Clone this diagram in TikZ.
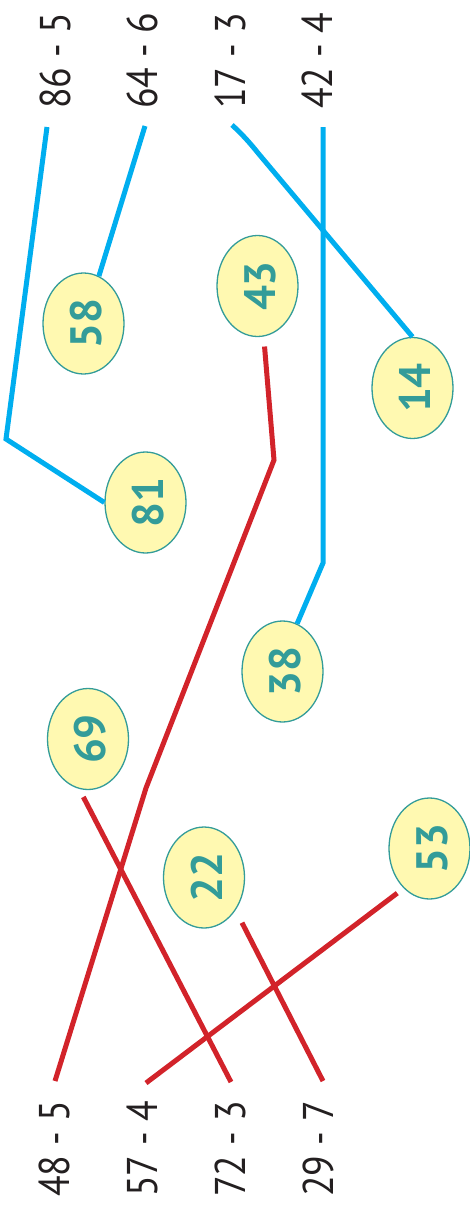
\documentclass[tikz,border=0pt]{standalone}
\usepackage{fontspec}
\setmainfont{PT Sans}
\usetikzlibrary{shapes.geometric}
\definecolor{cblue}{HTML}{00AEEF}
\definecolor{cred}{HTML}{D2232A}
\definecolor{cteal}{HTML}{339C99}
\definecolor{cfill}{HTML}{FFF9B1}
\definecolor{ctext}{HTML}{231F20}
\tikzset{
  numlabel/.style={rotate=90, anchor=base, inner sep=0pt, text=ctext,
    font=\fontsize{43}{43}\selectfont},
  bubble/.style={ellipse, draw=cteal, line width=1.3pt, fill=cfill,
    minimum width=81pt, minimum height=101pt, inner sep=0pt, text=cteal,
    font=\fontsize{44}{44}\selectfont\bfseries},
  blueline/.style={draw=cblue, line width=5pt},
  redline/.style={draw=cred, line width=5pt},
}
\newcommand{\lab}[1]{\scalebox{0.88}[1]{#1}}
\newcommand{\bnum}[1]{\hspace*{5pt}\rotatebox{90}{#1}}
\begin{document}
\begin{tikzpicture}[x=1pt,y=-1pt]
\useasboundingbox (0,0) rectangle (470,1207);
% top labels
\node[numlabel] (t1) at (70,61) {\lab{86 - 5}};
\node[numlabel] (t2) at (157,61) {\lab{64 - 6}};
\node[numlabel] (t3) at (245,61) {\lab{17 - 3}};
\node[numlabel] (t4) at (332,61) {\lab{42 - 4}};
% bottom labels
\node[numlabel] (b1) at (69,1149) {\lab{48 - 5}};
\node[numlabel] (b2) at (157,1149) {\lab{57 - 4}};
\node[numlabel] (b3) at (245,1149) {\lab{72 - 3}};
\node[numlabel] (b4) at (333,1149) {\lab{29 - 7}};
% label ends
\coordinate (t1e) at (47,127);
\coordinate (t2e) at (145,126);
\coordinate (t3e) at (232,125);
\coordinate (t4e) at (323,127);
\coordinate (b1e) at (55,1081);
\coordinate (b2e) at (146,1083);
\coordinate (b3e) at (231,1082);
\coordinate (b4e) at (323,1081);
% bubbles
\node[bubble] (e58) at (83.5,323.5) {\bnum{58}};
\node[bubble] (e43) at (257.5,286) {\bnum{43}};
\node[bubble] (e14) at (412.5,388) {\bnum{14}};
\node[bubble] (e81) at (145.5,502.5) {\bnum{81}};
\node[bubble] (e38) at (282.5,671.5) {\bnum{38}};
\node[bubble] (e69) at (88,739) {\bnum{69}};
\node[bubble] (e22) at (204,877.5) {\bnum{22}};
\node[bubble] (e53) at (429.5,848.5) {\bnum{53}};
% bends
\coordinate (k1) at (6,439);
\coordinate (k3) at (258,153);
\coordinate (k4) at (323,563);
\coordinate (k5) at (274,460);
\coordinate (k6) at (146,788);
% blue connectors
\draw[blueline] (t1e) -- (k1) -- (e81.west);
\draw[blueline] (t2e) -- (e58.72);
\draw[blueline] (t3e) .. controls (242,134) and (250,143) .. (k3) -- (e14.north);
\draw[blueline] (t4e) -- (k4) -- (e38.73);
% red connectors
\draw[redline, shorten <=10pt] (e43.-83) -- (k5) -- (k6) -- (b1e);
\draw[redline, shorten <=9pt] (e69.-100) -- (b3e);
\draw[redline, shorten <=14pt] (e22.-46) -- (b4e);
\draw[redline, shorten <=8pt] (e53.-123) -- (b2e);
\end{tikzpicture}
\end{document}
